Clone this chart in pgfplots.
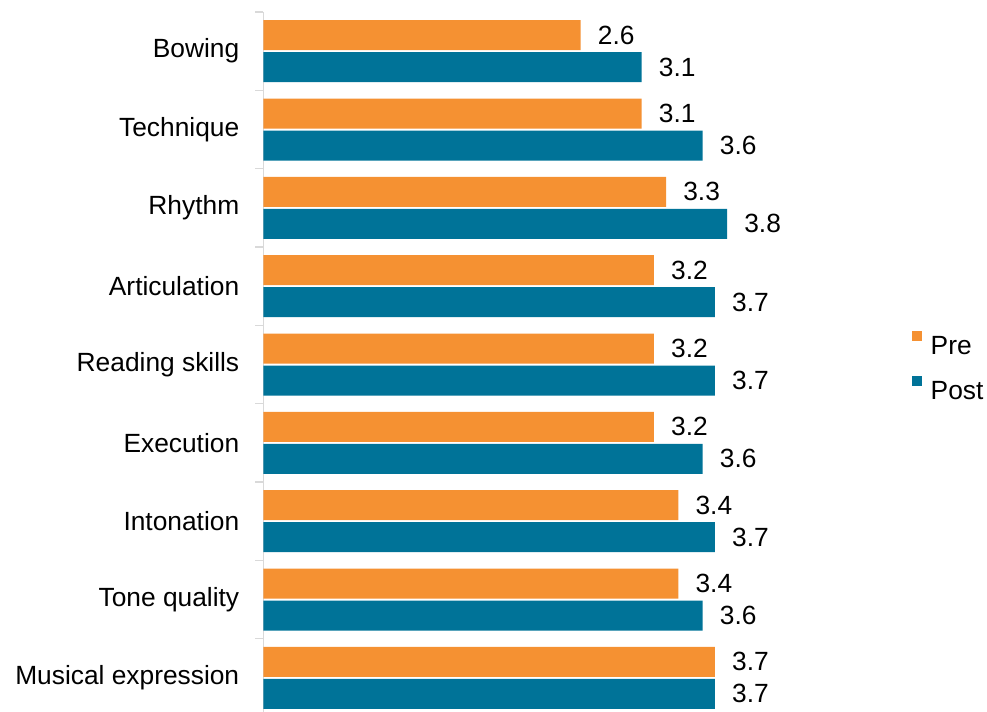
\documentclass[border=0pt]{standalone}
\usepackage{pgfplots}
\pgfplotsset{compat=1.18}
\usepackage{fontspec}
\setmainfont{Liberation Sans}

\definecolor{preorange}{HTML}{F59132}
\definecolor{postteal}{HTML}{007398}
\definecolor{axisgray}{HTML}{D9D9D9}

\begin{document}
\begin{tikzpicture}
\useasboundingbox (0,0) rectangle (740.25pt,533.25pt);
\begin{axis}[
    at={(197.6pt,-4.5pt)}, anchor=south west,
    scale only axis,
    width=366pt, height=528.75pt,
    xbar, bar width=22.5pt,
    xmin=0, xmax=4, ymin=-0.5, ymax=8.5,
    clip=false,
    axis x line=none, axis y line*=left,
    y axis line style={draw=axisgray, line width=1.2pt},
    ytick={0,...,8},
    yticklabels={Musical expression, Tone quality, Intonation, Execution,
                 Reading skills, Articulation, Rhythm, Technique, Bowing},
    major tick length=0pt,
    minor ytick={-0.5,0.5,...,8.5},
    minor tick length=6pt,
    tick align=outside,
    minor tick style={draw=axisgray, line width=1.2pt},
    yticklabel style={font=\fontsize{19.75}{22}\selectfont, anchor=east,
                      inner sep=0pt, xshift=-18pt},
    nodes near coords, point meta=x,
    nodes near coords style={font=\fontsize{19.75}{22}\selectfont, anchor=west,
                             inner sep=0pt, xshift=12.75pt},
    legend style={at={(1.329,0.4986)}, anchor=west, draw=none, fill=none,
                  inner sep=0pt, outer sep=0pt,
                  font=\fontsize{19.75}{22}\selectfont, row sep=15.8pt,
                  nodes={inner sep=0pt, text height=14.2pt, text depth=0pt},
                  /tikz/every odd column/.append style={column sep=6.5pt}},
    legend cell align=left,
    /pgf/number format/fixed,
    /pgf/number format/fixed zerofill,
    /pgf/number format/precision=1,
    /pgf/number format/assume math mode=true,
]

% Pre
\addplot[fill=preorange, draw=none, bar shift=12pt,
    legend image code/.code={\fill[preorange] (0pt,3.35pt) rectangle (7.5pt,10.85pt);}]
    coordinates {(2.6,8) (3.1,7) (3.3,6) (3.2,5) (3.2,4) (3.2,3) (3.4,2) (3.4,1) (3.7,0)};
\addlegendentry{Pre}

% Post
\addplot[fill=postteal, draw=none, bar shift=-12pt,
    legend image code/.code={\fill[postteal] (0pt,3.35pt) rectangle (7.5pt,10.85pt);}]
    coordinates {(3.1,8) (3.6,7) (3.8,6) (3.7,5) (3.7,4) (3.6,3) (3.7,2) (3.6,1) (3.7,0)};
\addlegendentry{Post}

\end{axis}
\end{tikzpicture}
\end{document}
